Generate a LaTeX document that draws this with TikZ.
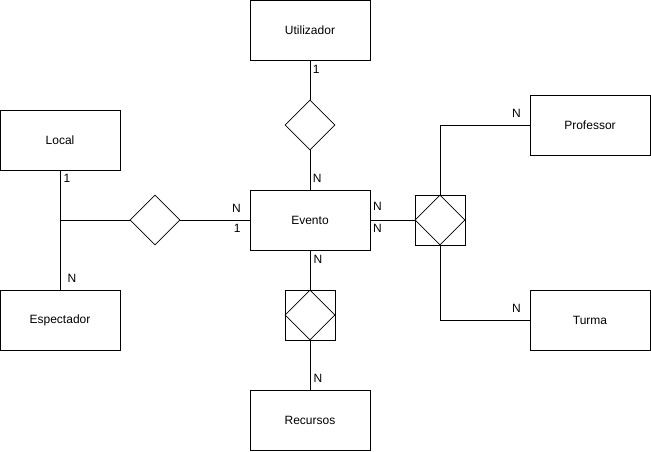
\documentclass[tikz,border=0pt]{standalone}
\usepackage{fontspec}
\setmainfont{Liberation Sans}
\usetikzlibrary{positioning,shapes.geometric}
\definecolor{ink}{HTML}{000000}
\tikzset{
    entity/.style={
        draw=ink, fill=white, line width=0.75pt,
        minimum width=90pt, minimum height=45pt,
        font=\fontsize{9}{11}\selectfont, align=center
    },
    relation/.style={
        draw=ink, diamond, aspect=1, line width=0.6pt,
        minimum width=37.5pt, minimum height=37.5pt, inner sep=0pt
    },
    weakbox/.style={
        draw=ink, line width=0.75pt,
        minimum width=37.5pt, minimum height=37.5pt, inner sep=0pt
    },
    link/.style={draw=ink, line width=0.75pt},
    card/.style={font=\fontsize{9}{10}\selectfont, inner sep=0pt},
}

\begin{document}
\begin{tikzpicture}[x=0.75pt, y=-0.75pt]
    \useasboundingbox (0,0) rectangle (651,451);
    % entities
    \node[entity] (utilizador) at (310,30) {Utilizador};
    \node[entity] (local) at (60,140) {Local};
    \node[entity] (evento) at (310,220) {Evento};
    \node[entity] (professor) at (590,125) {Professor};
    \node[entity] (espectador) at (60,320) {Espectador};
    \node[entity] (turma) at (590,320) {Turma};
    \node[entity] (recursos) at (310,420) {Recursos};
    % relations
    \node[relation] (r1) at (310,125) {};
    \node[relation] (r2) at (155,220) {};
    \node[weakbox] (w1) at (440,220) {};
    \node[relation] (w1d) at (w1) {};
    \node[weakbox] (w2) at (310,315) {};
    \node[relation] (w2d) at (w2) {};
    \coordinate (junc) at (60,220);
    % connectors
    \draw[link] (utilizador) -- node[card, pos=0, anchor=north west, xshift=1.75pt, yshift=-3pt] {1} (r1);
    \draw[link] (r1) -- node[card, pos=1, anchor=south west, xshift=1.75pt, yshift=5.25pt] {N} (evento);
    \draw[link] (local) -- node[card, pos=0, anchor=north west, xshift=2.25pt, yshift=-2.25pt] {1}
        node[card, pos=1, anchor=south west, xshift=5.25pt, yshift=5.25pt] {N} (espectador);
    \draw[link] (junc) -- (r2);
    \draw[link] (r2) -- node[card, pos=1, anchor=south east, xshift=-6.25pt, yshift=5.25pt] {N}
        node[card, pos=1, anchor=north east, xshift=-6.25pt, yshift=-3pt] {1} (evento);
    \draw[link] (evento) -- node[card, pos=0, anchor=south west, xshift=1.5pt, yshift=6.75pt] {N}
        node[card, pos=0, anchor=north west, xshift=1.5pt, yshift=-3pt] {N} (w1);
    \draw[link] (w1.north) |- node[card, pos=1, anchor=south east, xshift=-6.25pt, yshift=5.5pt] {N} (professor);
    \draw[link] (w1.south) |- node[card, pos=1, anchor=south east, xshift=-6.25pt, yshift=5.5pt] {N} (turma);
    \draw[link] (evento) -- node[card, pos=0, anchor=north west, xshift=2.25pt, yshift=-3pt] {N} (w2);
    \draw[link] (w2) -- node[card, pos=1, anchor=south west, xshift=2.25pt, yshift=5.25pt] {N} (recursos);
\end{tikzpicture}
\end{document}
